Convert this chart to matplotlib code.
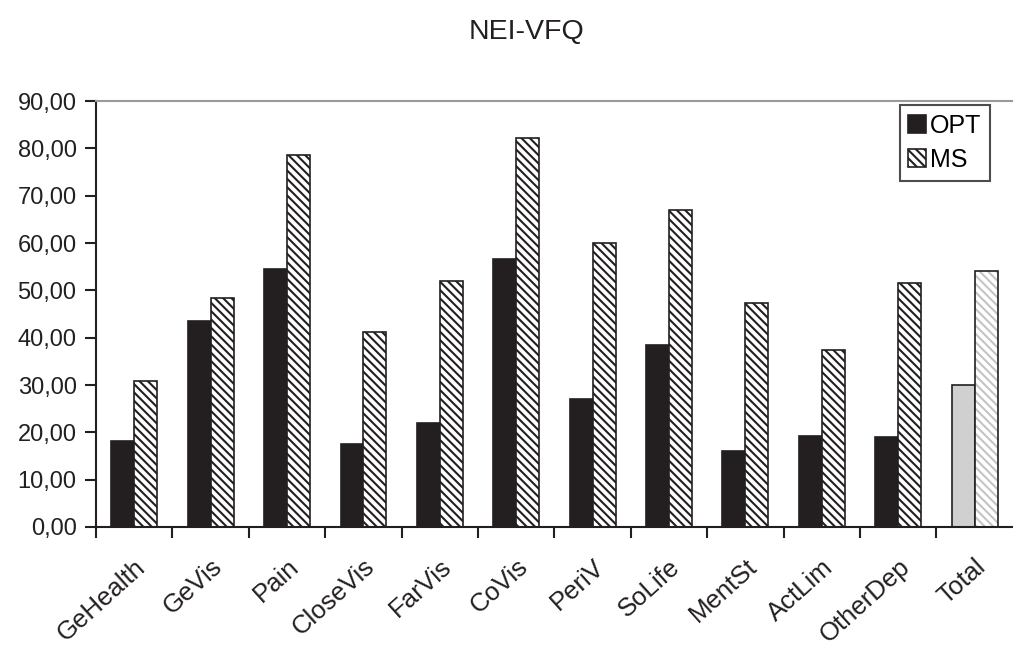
import numpy as np
import matplotlib
matplotlib.use("Agg")
import matplotlib.pyplot as plt

categories = ["GeHealth", "GeVis", "Pain", "CloseVis", "FarVis", "CoVis",
              "PeriV", "SoLife", "MentSt", "ActLim", "OtherDep", "Total"]
opt = [18.2, 43.5, 54.5, 17.5, 22.0, 56.7, 27.1, 38.5, 16.0, 19.2, 19.0, 30.0]
ms = [30.8, 48.3, 78.7, 41.1, 52.0, 82.3, 60.1, 67.0, 47.3, 37.3, 51.5, 54.0]

plt.rcParams['font.family'] = ['Liberation Sans', 'DejaVu Sans']
plt.rcParams['hatch.linewidth'] = 1.5

fig = plt.figure(figsize=(10.13, 6.57), dpi=100)
ax = fig.add_axes([0.0948, 0.198, 0.905, 0.648])

x = np.arange(len(categories))
w = 0.30
n = len(categories)
dark = '#231f20'

# regular groups
ax.bar(x[:-1] - w / 2, opt[:-1], w, color=dark, edgecolor=dark, linewidth=1.2, label='OPT', zorder=2)
ax.bar(x[:-1] + w / 2, ms[:-1], w, color='white', edgecolor=dark, hatch='\\\\\\\\', linewidth=1.2, label='MS', zorder=2)

# total group in light grey
ax.bar(x[-1] - w / 2, opt[-1], w, color='#d0d0d0', edgecolor=dark, linewidth=1.2, zorder=2)
ax.bar(x[-1] + w / 2, ms[-1], w, color='white', edgecolor='#c4c4c4', hatch='\\\\\\\\', linewidth=0, zorder=2)
ax.bar(x[-1] + w / 2, ms[-1], w, fill=False, edgecolor=dark, linewidth=1.2, zorder=3)

ax.set_xlim(-0.5, n - 0.5)
ax.set_ylim(0, 90)
ax.set_yticks(np.arange(0, 91, 10))
ax.set_yticklabels([f"{v:.2f}".replace('.', ',') for v in np.arange(0, 91, 10)], fontsize=17, color=dark)

ax.set_xticks(x)
ax.set_xticklabels(categories, rotation=42, ha='right', rotation_mode='anchor', fontsize=18.5, color=dark)
ax.set_xticks(np.arange(-0.5, n - 0.5, 1), minor=True)
ax.tick_params(axis='x', which='major', length=0, pad=20)
ax.tick_params(axis='x', which='minor', length=8, width=1.5, direction='out', color=dark)
ax.tick_params(axis='y', length=8, width=1.5, direction='out', color=dark, pad=6)

ax.spines['right'].set_visible(False)
ax.spines['top'].set_color('#9a9a9a')
ax.spines['top'].set_linewidth(1.5)
for s in ('left', 'bottom'):
    ax.spines[s].set_linewidth(1.5)
    ax.spines[s].set_color(dark)

fig.text(0.52, 0.951, "NEI-VFQ", ha='center', va='center', fontsize=20.5, color=dark)

leg = ax.legend(loc='upper right', bbox_to_anchor=(0.977, 0.840), bbox_transform=fig.transFigure,
                fontsize=18, frameon=True, fancybox=False, handlelength=0.7, handleheight=0.7,
                handletextpad=0.15, borderpad=0.35, labelspacing=0.4, borderaxespad=0)
leg.get_frame().set_edgecolor(dark)
leg.get_frame().set_linewidth(1.5)

fig.savefig("out.png", dpi=100)
